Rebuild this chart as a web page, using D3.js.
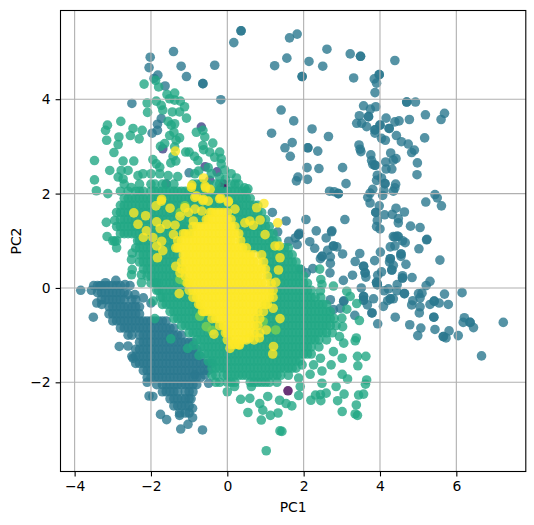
<!DOCTYPE html>
<html><head><meta charset="utf-8">
<style>html,body{margin:0;padding:0;background:#fff}svg{display:block}
text{font-family:"DejaVu Sans",sans-serif;font-size:13.9px;fill:#000}</style>
<script src="https://cdn.jsdelivr.net/npm/d3@7"></script></head><body>
<script>
const xTicks=[-4,-2,0,2,4,6], yTicks=[-2,0,2,4];
const classColors=["#440154","#414487","#2a788e","#22a884","#7ad151","#fde725"];
const purplePts=[[-.1,2.2],[1.59,-2.18]];
const indigoPts=[[-.68,3.41],[-.58,2.57],[-.27,2.46],[-.18,2.06],[-.72,2.13],[-1.69,2.95],[.24,1.7],[-1.16,1.25],[-1.6,2.2],[-.46,2.28],[-.45,2.02],[-.15,2.13],[.16,1.75]];
const tealPts=[[1.83,5.38],[1.63,5.30],[2.61,5.06],[1.56,4.87],[1.24,4.71],[2.14,4.80],[2.50,4.70],[3.22,4.96],[3.49,4.91],[3.49,4.91],[4.39,4.82],[1.96,4.48],[1.96,4.48],[3.31,4.45],[3.98,4.52],[3.98,4.52],[3.85,4.43],[3.91,4.34],[3.87,4.14],[4.70,3.94],[4.70,3.94],[4.93,3.94],[1.41,3.77],[1.74,3.54],[2.22,3.37],[1.16,3.28],[2.65,3.21],[1.70,3.08],[1.51,2.97],[1.65,2.79],[2.11,2.97],[2.11,2.97],[2.37,2.90],[3.57,3.86],[3.75,3.79],[3.89,3.84],[3.46,3.65],[3.70,3.63],[3.70,3.63],[3.39,3.49],[3.52,3.49],[3.65,3.42],[4.16,3.60],[4.39,3.52],[4.50,3.54],[4.77,3.57],[5.19,3.67],[5.69,3.70],[5.60,3.57],[4.0,3.45],[4.0,3.45],[3.87,3.35],[3.87,3.35],[3.87,3.28],[4.24,3.38],[4.24,3.38],[4.43,3.23],[4.04,3.17],[4.14,3.13],[4.56,3.10],[5.17,3.18],[4.74,3.05],[4.90,2.92],[4.83,2.87],[3.45,3.03],[3.48,2.94],[3.50,2.89],[3.76,2.82],[3.78,2.70],[3.87,2.60],[3.87,2.60],[3.81,2.62],[4.28,2.86],[4.15,2.67],[4.42,2.74],[4.35,2.71],[4.98,2.65],[4.16,2.52],[4.31,2.52],[4.97,2.40],[2.09,2.55],[2.40,2.53],[3.02,2.55],[1.85,2.35],[1.81,2.27],[2.10,2.30],[3.11,2.21],[2.68,2.05],[2.80,2.04],[2.91,2.0],[2.91,2.0],[3.93,2.39],[3.91,2.28],[4.04,2.33],[4.13,2.21],[4.13,2.21],[4.41,2.20],[4.39,2.12],[4.35,2.05],[3.81,2.09],[3.74,2.01],[4.10,2.07],[4.07,1.96],[3.68,1.92],[3.74,1.80],[3.98,1.74],[5.44,1.98],[5.50,1.91],[5.20,1.82],[5.61,1.74],[3.89,1.60],[3.89,1.60],[4.12,1.55],[4.32,1.56],[4.42,1.69],[4.64,1.61],[4.48,1.47],[4.48,1.38],[3.93,1.43],[3.91,1.30],[4.0,1.25],[4.80,1.31],[5.05,1.28],[3.08,1.45],[2.06,1.45],[1.54,1.42],[1.18,1.60],[2.33,1.21],[2.73,1.19],[2.59,1.06],[1.87,1.13],[1.87,1.13],[1.32,1.19],[4.39,1.08],[4.48,1.09],[4.59,1.0],[5.22,1.02],
[1.89,1.16],[2.74,1.21],[2.16,.98],[2.29,.84],[1.61,.99],[1.83,.92],[1.78,1.06],[4.35,1.09],[4.45,1.10],[4.39,.89],[4.27,.87],[4.66,.96],[5.23,1.03],[5.02,.83],[2.78,.89],[2.78,.89],[2.87,.87],[2.63,.80],[2.48,.67],[2.48,.67],[2.44,.62],[3.02,.72],[2.70,.66],[2.70,.52],[3.47,.73],[4.01,.76],[3.35,.56],[3.86,.58],[4.27,.62],[4.27,.62],[4.25,.55],[4.55,.72],[4.55,.72],[4.55,.67],[4.68,.50],[5.57,.59],[3.57,.46],[3.57,.46],[4.35,.48],[4.31,.38],[4.31,.38],[3.61,.32],[3.61,.32],[3.63,.23],[2.69,.32],[1.93,.39],[2.07,.32],[2.24,.41],[3.28,.27],[4.04,.34],[3.94,.27],[4.59,.21],[4.59,.21],[4.59,.26],[4.84,.22],[5.31,.14],[5.21,.05],[3.04,.16],[3.51,0],[3.91,.12],[3.91,.12],[3.93,.07],[3.93,.07],[4.45,.07],[4.22,-.02],[4.44,-.06],[4.11,-.06],[4.64,-.12],[4.64,-.12],[5.01,-.12],[5.10,-.11],[5.69,-.13],[6.15,-.10],[3.57,-.18],[3.57,-.18],[3.83,-.23],[4.35,-.23],[4.27,-.23],[4.27,-.23],[4.20,-.27],[4.09,-.39],[3.67,-.36],[3.57,-.26],[3.57,-.26],[4.86,-.27],[4.83,-.36],[5.05,-.21],[5.05,-.40],[5.03,-.53],[5.31,-.35],[5.42,-.28],[5.42,-.28],[5.55,-.32],[5.79,-.35],[3.34,-.58],[3.79,-.53],[3.79,-.53],[3.94,-.76],[4.40,-.62],[4.78,-.78],[5.07,-.85],[4.99,-1.01],[5.44,-.88],[5.81,-.91],[5.66,-1.03],[5.66,-1.03],[5.73,-1.06],[6.05,-1.01],[5.41,-.62],[5.41,-.62],[6.21,-.63],[6.18,-.73],[6.36,-.73],[6.36,-.73],[6.45,-.84],[7.23,-.73],[6.66,-1.44],[2.70,-.25],[3.05,-.28],[3.05,-.28],[2.78,-.46],[2.96,-.43],
[-2.02,4.89],[-1.41,5.01],[-2.05,4.67],[-1.21,4.70],[-1.07,4.48],[-.33,4.72],[.17,5.2],[.36,5.45],[.36,5.45],[-.64,4.33],[-.64,4.33],[-.17,3.99],[-1.82,4.51],[-1.92,4.44],[-1.63,4.28],[-2.5,3.91],[-1.73,3.59],[-1.83,3.47],[-1.83,3.34],[-1.97,3.28],[-1,2.44],
[-3.84,-.05],[-3.56,-.05],[-3.19,.11],[-2.92,.16],[-2.68,.07],[-2.55,.05],[-3.51,-.62],[-3.34,.04],[-3.42,-.32],[-3.29,-.35],[-2.6,-.14],[-2.42,-.14],[-2.2,-.21],[-2,-.32],[-2.83,-1.24],[-2.6,-1.23],[-2.47,-1.49],[-2.1,-2],[-2.05,-2.29],[-1.95,-2.3],[-1.75,-2.68],[-1.59,-2.79],[-1.22,-2.99],[-1.03,-2.89],[-.91,-2.75],[-.65,-3.01],[-1.25,-2.7],[-.91,-2.55],[-.49,-2.02],[-.85,-1.84],[-.59,-1.84]];
const tealRows=[
[.05,-3.5,-3.4,-3.3,-3.2,-3.1,-3,-2.9,-2.8],
[-.1,-3.4,-3.3,-3.2,-3.1,-3,-2.9,-2.8,-2.7],
[-.25,-3.3,-3.2,-3.1,-3,-2.9,-2.8,-2.7,-2.5,-2.4],
[-.4,-3.1,-3,-2.9,-2.8,-2.7,-2.6,-2.5,-2.4,-2.3],
[-.55,-3.1,-3,-2.9,-2.8,-2.7,-2.6,-2.5,-2.4,-2.3],
[-.7,-3,-2.9,-2.8,-2.7,-2.6,-2.5,-2.4,-2.3,-2.2,-2.1,-2,-1.9,-1.8,-1.7,-1.6],
[-.85,-2.8,-2.7,-2.6,-2.5,-2.4,-2.3,-2.2,-2.1,-2,-1.9,-1.8,-1.7,-1.6,-1.5,-1.4],
[-1,-2.6,-2.5,-2.3,-2.2,-2.1,-2,-1.9,-1.8,-1.7,-1.6,-1.5,-1.4,-1.3,-1.2],
[-1.15,-2.3,-2.2,-2.1,-2,-1.9,-1.8,-1.7,-1.6,-1.5,-1.4,-1.3,-1.2,-1.1,-1,-.9],
[-1.3,-2.4,-2.3,-2.2,-2.1,-2,-1.9,-1.8,-1.7,-1.6,-1.5,-1.4,-1.3,-1.2,-1.1,-1,-.9,-.8],
[-1.45,-2.5,-2.4,-2.3,-2.2,-2.1,-2,-1.9,-1.8,-1.7,-1.6,-1.5,-1.4,-1.3,-1.2,-1.1,-1,-.9,-.8,-.7],
[-1.6,-2.4,-2.3,-2.2,-2.1,-2,-1.9,-1.8,-1.7,-1.6,-1.5,-1.4,-1.3,-1.2,-1.1,-1,-.9,-.8,-.7,-.6,-.5,-.4],
[-1.75,-2.2,-2.1,-2,-1.9,-1.8,-1.7,-1.6,-1.5,-1.4,-1.3,-1.2,-1.1,-1,-.9,-.8,-.7,-.6,-.5],
[-1.9,-2.1,-2,-1.9,-1.8,-1.7,-1.6,-1.5,-1.4,-1.3,-1.2,-1.1,-1,-.9,-.8,-.7],
[-2.05,-1.85,-1.7,-1.6,-1.5,-1.4,-1.3,-1.2,-1.1,-1,-.9,-.8],
[-2.2,-1.7,-1.6,-1.5,-1.4,-1.3,-1.1,-1,-.9],
[-2.35,-1.5,-1.4,-1.3,-1.2,-1.1,-1,-.95],
[-2.5,-1.4,-1.3,-1.2,-1.1,-1],
[-2.65,-1.25,-1.1,-1]];
const greenPts=[[-2.18,4.32],[-1.88,4.40],[-1.80,4.26],[-1.58,4.10],[-1.38,4.13],[-2.10,3.92],[-1.86,3.96],[-1.51,4.01],[-1.23,3.96],[-1.73,3.87],[-1.38,3.98],[-1.69,3.77],[-1.44,3.73],[-1.12,3.84],[-1.25,3.73],[-2.09,3.72],[-1.07,3.60],[-1.55,3.53],[-1.38,3.48],[-1.47,3.45],[-3.14,3.45],[-3.19,3.34],[-2.79,3.53],[-2.47,3.38],[-2.23,3.34],[-2.54,3.23],[-2.84,3.20],[-3.16,3.13],[-2.31,3.16],[-2.86,3.04],[-2.97,2.87],[-1.51,3.23],[-1.40,3.30],[-1.25,3.18],[-1.34,3.13],[-1.75,3.0],[-1.64,3.06],[-1.38,2.99],[-1.42,2.79],[-1.35,2.69],[-1.48,2.65],[-3.48,2.70],[-2.73,2.69],[-2.45,2.69],[-1.95,2.72],[-1.09,2.88],[-1.0,2.88],[-.86,2.79],[-.77,2.70],[-.81,3.30],[-.64,3.34],[-.59,3.2],[-.38,3.07],[-.64,3.02],[-.62,2.93],[-.46,2.88],[-.2,2.88],[-.33,2.77],[-.16,2.74],[-.16,2.63],[-.07,2.5],[.1,2.42],[.24,2.33],[.45,2.12],[.54,2.1],[-3.08,2.49],[-3.48,2.29],[-3.43,2.06],[-3.13,2.0],[-2.78,2.49],[-2.6,2.49],[-2.86,2.35],[-2.73,2.31],[-2.52,2.13],[-2.34,2.38],[-2.21,2.42],[-1.86,2.63],[-1.77,2.56],[-2,2.42],[-1.77,2.42],[-1.55,2.38],[-1.3,2.36],[-.85,2.42],[-.75,2.48],[-.5,2.55],[-.42,2.42],[-.2,2.35],[-.05,2.3],
[2.42,.4],[2.45,.18],[2.48,.07],[2.78,.04],[2.44,-.06],[3.13,-.07],[3.22,-.18],[3.39,-.33],[3.13,-.45],[3.0,-.64],[3.46,-.69],[3.02,-.82],[3.38,-1.06],[3.35,-1.12],[3.05,-1.17],[2.94,-1.03],[2.78,-1.35],[3.41,-1.45],[3.63,-1.45],[3.01,-1.49],[3.42,-1.65],[2.72,-1.63],[2.44,-1.49],[2.48,-1.76],[2.26,-1.63],[2.17,-1.83],[1.96,-1.63],[3.01,-1.83],[3.15,-1.93],[3.65,-1.95],[3.62,-2.04],[2.48,-2.02],[2.85,-2.09],[3.06,-2.25],[3.44,-2.27],[3.57,-2.25],[2.59,-2.23],[2.44,-2.26],[2.31,-2.27],[2.19,-2.38],[2.45,-2.39],[2.89,-2.39],[3.38,-2.48],[3.01,-2.62],[3.35,-2.67],[3.41,-2.7],[1.69,-2.5],[1.87,-2.28],[1.43,-3.04],[1.91,-2.09],[1.87,-1.91],
[.54,-2.64],[.89,-2.8],[1.13,-2.7],[1.33,-2.65],[1.38,-3.03],[1.02,-3.45],[0,-2.2],[.35,-2.36],[.59,-2.34],[.85,-2.45],[.93,-2.59],[1.06,-2.3],[1.37,-2.38],[1.54,-2.45],[.19,-2.09],[.63,-2.09],[-2.9,.85],[-2.95,.99],[-2.49,.74],[-2.51,.6],[-2.49,.39],[-2.51,.28],[-2.25,.28],[-2.25,.11],[-1.86,.11],[-1.94,-.28],[-1.9,-.65],[-1.48,-1.08],[-1.04,-1.28],[-.89,-1.22],[-.74,-1.43],[-3.17,1.39],[-2.95,1.43],[-3.15,1.09]];
const greenRows=[
[2.2,-2.7,-2.3,-2,-1.9,-1.7,-1.6,-1.4,-.9,-.8,-.7,-.6,-.5,-.3,-.2,.1,.2,.3],
[2.05,-2.8,-2.6,-2.4,-2.3,-2.2,-2,-1.9,-1.8,-1.7,-1.6,-1.5,-1.4,-1.3,-1.2,-1.1,-1,-.9,-.8,-.7,-.6,-.5,-.4,-.3,-.2,-.1,0,.1,.2,.3,.4,.5],
[1.9,-2.7,-2.6,-2.5,-2.4,-2.3,-2.2,-2.1,-2,-1.9,-1.8,-1.7,-1.6,-1.5,-1.4,-1.3,-1.2,-1.1,-1,-.9,-.8,-.7,-.6,-.5,-.4,-.3,-.2,-.1,0,.1,.2,.3,.4,.5,.6],
[1.75,-2.8,-2.7,-2.6,-2.5,-2.4,-2.3,-2.2,-2.1,-2,-1.9,-1.8,-1.7,-1.6,-1.5,-1.4,-1.3,-1.2,-1.1,-1,-.9,-.8,-.7,-.6,-.5,-.4,-.3,-.2,-.1,0,.1,.2,.3,.4,.5,.6,.7,.8],
[1.6,-2.9,-2.8,-2.7,-2.6,-2.5,-2.4,-2.3,-2.2,-2.1,-2,-1.9,-1.8,-1.7,-1.6,-1.5,-1.4,-1.3,-1.2,-1.1,-1,-.9,-.8,-.7,-.6,-.5,.1,.2,.3,.4,.5,.6,.7,.8,.9],
[1.45,-2.8,-2.7,-2.6,-2.5,-2.4,-2.3,-2.2,-2.1,-2,-1.9,-1.8,-1.7,-1.6,-1.5,-1.4,-1.3,-1.2,-1.1,-1,-.9,-.8,-.7,-.6,.2,.3,.4,.5,.6,.7,.8,.9,1],
[1.3,-2.9,-2.8,-2.7,-2.6,-2.5,-2.4,-2.3,-2.2,-2.1,-2,-1.9,-1.8,-1.7,-1.6,-1.5,-1.4,-1.3,-1.2,-1.1,-1,-.9,.3,.4,.5,.6,.7,.8,.9,1,1.1],
[1.15,-2.8,-2.7,-2.6,-2.5,-2.4,-2.3,-2.2,-2.1,-2,-1.9,-1.8,-1.7,-1.6,-1.5,-1.4,-1.3,-1.2,-1.1,-1,.4,.5,.6,.7,.8,.9,1,1.1,1.2],
[1,-3,-2.9,-2.35,-2.3,-2.2,-2.1,-2,-1.9,-1.8,-1.7,-1.6,-1.5,-1.4,-1.3,.4,.5,.6,.7,.8,.9,1,1.1,1.2,1.3],
[.85,-2.4,-2.3,-2.2,-2.1,-2,-1.9,-1.8,-1.7,-1.6,-1.5,-1.4,.5,.6,.7,.8,.9,1,1.1,1.2,1.3,1.4,1.5,1.6],
[.7,-2.3,-2.2,-2.1,-2,-1.9,-1.8,-1.7,-1.6,-1.5,-1.4,-1.3,.9,1,1.1,1.2,1.3,1.4,1.5,1.6,1.7],
[.55,-2.3,-2.2,-2.1,-2,-1.9,-1.8,-1.7,-1.6,-1.5,-1.4,-1.3,1,1.1,1.2,1.3,1.4,1.5,1.6,1.7,1.8],
[.4,-2.2,-2.1,-2,-1.9,-1.8,-1.7,-1.6,-1.5,-1.4,-1.3,-1.2,1.1,1.2,1.3,1.4,1.5,1.6,1.7,1.8,1.9],
[.25,-2.1,-2,-1.9,-1.8,-1.7,-1.6,-1.5,-1.4,-1.3,-1.2,1.1,1.2,1.3,1.4,1.5,1.6,1.7,1.8,1.9,2],
[.1,-2,-1.9,-1.8,-1.7,-1.6,-1.5,-1.4,-1.3,-1.2,-1.1,1.2,1.3,1.4,1.5,1.6,1.7,1.8,1.9,2,2.1],
[-.05,-1.85,-1.8,-1.7,-1.6,-1.5,-1.4,-1.3,-1.2,-1.1,-1,1.2,1.3,1.4,1.5,1.6,1.7,1.8,1.9,2,2.1,2.2],
[-.2,-1.75,-1.7,-1.6,-1.5,-1.4,-1.3,-1.2,-1.1,-1,-.9,1.2,1.3,1.4,1.5,1.6,1.7,1.8,1.9,2,2.1,2.2,2.3,2.45],
[-.35,-1.7,-1.6,-1.5,-1.4,-1.3,-1.2,-1.1,-1,-.9,-.8,1,1.1,1.2,1.3,1.4,1.5,1.6,1.7,1.8,1.9,2,2.1,2.2,2.3,2.4,2.5,2.6],
[-.5,-1.5,-1.4,-1.3,-1.2,-1.1,-1,-.9,-.8,-.7,.9,1,1.1,1.2,1.3,1.4,1.5,1.6,1.7,1.8,1.9,2,2.1,2.2,2.3,2.4,2.5,2.6,2.7],
[-.65,-1.4,-1.3,-1.2,-1.1,-1,-.9,-.8,-.7,-.6,-.5,-.4,.8,.9,1,1.1,1.2,1.3,1.4,1.5,1.6,1.7,1.8,1.9,2,2.1,2.2,2.3,2.4,2.5,2.6,2.7,2.8],
[-.8,-1.2,-1.1,-1,-.9,-.8,-.7,-.6,-.5,-.4,-.3,-.2,.8,.9,1,1.1,1.2,1.3,1.4,1.5,1.6,1.7,1.8,1.9,2,2.1,2.2,2.3,2.4,2.5,2.6,2.7,2.85],
[-.95,-1,-.9,-.8,-.7,-.6,-.5,-.4,-.3,-.2,-.1,.8,.9,1,1.1,1.2,1.3,1.4,1.5,1.6,1.7,1.8,1.9,2,2.1,2.2,2.3,2.4,2.5,2.6,2.75],
[-1.1,-.8,-.7,-.6,-.5,-.4,-.3,-.2,-.1,0,.7,.8,.9,1,1.1,1.2,1.3,1.4,1.5,1.6,1.7,1.8,1.9,2,2.1,2.2,2.3,2.4,2.6],
[-1.25,-.7,-.6,-.5,-.4,-.3,-.2,-.1,0,.1,.2,.3,.4,.5,.6,.7,.8,.9,1,1.1,1.2,1.3,1.4,1.5,1.6,1.7,1.8,1.9,2,2.1,2.2,2.4],
[-1.4,-.6,-.5,-.4,-.3,-.2,-.1,0,.1,.2,.3,.4,.5,.6,.7,.8,.9,1,1.1,1.2,1.3,1.4,1.5,1.6,1.7,1.8,1.9,2,2.1,2.2],
[-1.55,-.5,-.4,-.3,-.2,-.1,0,.1,.2,.3,.4,.5,.6,.7,.8,.9,1,1.1,1.2,1.3,1.4,1.5,1.6,1.7,1.8,1.9],
[-1.7,-.4,-.3,-.2,-.1,0,.1,.2,.3,.4,.5,.6,.7,.8,.9,1,1.1,1.2,1.3,1.4,1.5,1.6,1.7,1.8],
[-1.85,-.4,-.3,-.1,0,.1,.2,.3,.4,.5,.6,.7,.8,.9,1,1.1,1.2,1.3,1.4,1.6],
[-2,-.3,-.2,0,.1,.2,.6,.7,.8,.9,1,1.1,1.3]];
const limePts=[[1.27,-.89],[-1.23,1.6],[-.55,-.82],[-1.11,.14],[.94,-.71],[-.4,-.9],[-.72,-.6],[-1.24,.18],[-1.11,1.74]];
const yellowPts=[[-1.36,2.90],[-.62,2.33],[-.94,2.13],[-.57,2.12],[-.45,2.09],[-.85,1.92],[-.64,1.85],[-.2,1.89],[.02,1.82],[.96,1.79],[.77,1.7],[-1.73,1.84],[-1.87,1.74],[-2.45,1.59],[-2.14,1.53],[-1.5,1.69],[-1.11,1.7],[-.85,1.67],[-1.24,1.52],[-2.34,1.35],[-1.85,1.4],[-1.76,1.26],[-2.12,1.21],[-1.37,1.33],[-1.59,1.35],[-.89,1.42],[-.67,1.63],[.59,1.42],[.86,1.44],[.46,1.38],[.68,1.33],[-2.2,1.07],[-1.95,1.07],[.99,1.13],[-1.02,1.6],[1.25,.89],[1.36,.89],[1.38,.64],[1.34,.38],[1.27,.12],[1.38,-.65],[1.21,-1.24],[1.19,-1.4],[-.35,-.98],[-1.26,-.12],[-1.85,.89],[-1.69,.79],[-1.83,.64],[-1.72,.99],[-1.41,1.13],[0,-.87],[.07,-1.28],[.32,-1.21],[.58,-1.06],[.84,-1.06],[1.02,-.89],[1.2,-.43],[1.32,1.38],[-1.35,.46],[-1.24,.32],[.2,1.67],[.03,1.84],[-.17,1.91],[-.93,2.18],[-.58,2.16],[-.81,1.95],[-.63,1.88],[-.5,1.84],[-1.72,1.88]];
const yellowRows=[
[1.6,-.45,-.4,-.3,-.2,-.1,0],
[1.45,-.55,-.5,-.4,-.3,-.2,-.1,0,.1],
[1.3,-.9,-.8,-.7,-.6,-.5,-.4,-.3,-.2,-.1,0,.1,.2],
[1.15,-1.15,-1.1,-1,-.9,-.8,-.7,-.6,-.5,-.4,-.3,-.2,-.1,0,.1,.2,.3],
[1,-1.3,-1.2,-1.1,-1,-.9,-.8,-.7,-.6,-.5,-.4,-.3,-.2,-.1,0,.1,.2,.35],
[.85,-1.35,-1.3,-1.2,-1.1,-1,-.9,-.8,-.7,-.6,-.5,-.4,-.3,-.2,-.1,0,.1,.2,.3,.4,.5],
[.7,-1.15,-1.1,-1,-.9,-.8,-.7,-.6,-.5,-.4,-.3,-.2,-.1,0,.1,.2,.3,.4,.5,.6,.7,.9],
[.55,-1.2,-1.1,-1,-.9,-.8,-.7,-.6,-.5,-.4,-.3,-.2,-.1,0,.1,.2,.3,.4,.5,.6,.7,.8,.95],
[.4,-1.2,-1.1,-1,-.9,-.8,-.7,-.6,-.5,-.4,-.3,-.2,-.1,0,.1,.2,.3,.4,.5,.6,.7,.8,.9,1],
[.25,-1.1,-1,-.9,-.8,-.7,-.6,-.5,-.4,-.3,-.2,-.1,0,.1,.2,.3,.4,.5,.6,.7,.8,.9,1.05],
[.1,-1.05,-1,-.9,-.8,-.7,-.6,-.5,-.4,-.3,-.2,-.1,0,.1,.2,.3,.4,.5,.6,.7,.8,.9,1,1.15],
[-.05,-1,-.9,-.8,-.7,-.6,-.5,-.4,-.3,-.2,-.1,0,.1,.2,.3,.4,.5,.6,.7,.8,.9,1,1.1,1.2],
[-.2,-.9,-.8,-.7,-.6,-.5,-.4,-.3,-.2,-.1,0,.1,.2,.3,.4,.5,.6,.7,.8,.9,1,1.1,1.2],
[-.35,-.75,-.7,-.6,-.5,-.4,-.3,-.2,-.1,0,.1,.2,.3,.4,.5,.6,.7,.8,.9,1,1.05],
[-.5,-.65,-.6,-.5,-.4,-.3,-.2,-.1,0,.1,.2,.3,.4,.5,.6,.7,.8,.95],
[-.65,-.4,-.3,-.2,-.1,0,.1,.2,.3,.4,.5,.6,.7,.85],
[-.8,-.2,-.1,0,.1,.2,.3,.4,.5,.6,.7,.8],
[-.95,-.05,0,.1,.2,.3,.4,.5,.6,.7,.85],
[-1.1,0,.1,.2,.3,.4,.5,.7],
[-1.2,.1,.2,.3]];

const fromRows=rows=>rows.flatMap(([y,...xs])=>xs.map(x=>[x,y]));
const layers=[
 {pts:indigoPts,c:classColors[1]},
 {pts:purplePts.slice(0,1),c:classColors[0]},
 {pts:tealPts.concat(fromRows(tealRows)),c:classColors[2]},
 {pts:greenPts.concat(fromRows(greenRows)),c:classColors[3]},
 {pts:purplePts.slice(1),c:classColors[0]},
 {pts:limePts,c:classColors[4]},
 {pts:yellowPts.concat(fromRows(yellowRows)),c:classColors[5]}];

const W=534,H=525,L=60.5,R=525.8,T=10.5,B=471.5;
const x=d3.scaleLinear().domain([-4.37,7.82]).range([L,R]);
const y=d3.scaleLinear().domain([-3.89,5.88]).range([B,T]);
const svg=d3.select("body").append("svg").attr("width",W).attr("height",H);
svg.append("rect").attr("width",W).attr("height",H).attr("fill","#fff");
const plot=svg.append("g");
layers.forEach(l=>{plot.append("g").selectAll("circle").data(l.pts).join("circle")
 .attr("cx",d=>x(d[0])).attr("cy",d=>y(d[1])).attr("r",4.8).attr("fill",l.c).attr("fill-opacity",.8);});
const grid=svg.append("g").attr("stroke","#b0b0b0").attr("stroke-width",1.1);
grid.selectAll(".v").data(xTicks).join("line").attr("x1",d=>x(d)).attr("x2",d=>x(d)).attr("y1",T).attr("y2",B);
grid.selectAll(".h").data(yTicks).join("line").attr("y1",d=>y(d)).attr("y2",d=>y(d)).attr("x1",L).attr("x2",R);
const fmt=d=>String(d).replace("-","\u2212");
const ax=svg.append("g").attr("transform",`translate(0,${B})`).call(d3.axisBottom(x).tickValues(xTicks).tickFormat(fmt).tickSize(4.9).tickPadding(4.9));
const ay=svg.append("g").attr("transform",`translate(${L},0)`).call(d3.axisLeft(y).tickValues(yTicks).tickFormat(fmt).tickSize(4.9).tickPadding(4.9));
[ax,ay].forEach(a=>{a.select(".domain").remove();a.selectAll("line").attr("stroke","#000").attr("stroke-width",1.1);a.selectAll("text").style("font-size","13.9px").style("font-family",'"DejaVu Sans",sans-serif');});
svg.append("rect").attr("x",L).attr("y",T).attr("width",R-L).attr("height",B-T).attr("fill","none").attr("stroke","#000").attr("stroke-width",1.1);
svg.append("text").attr("x",(L+R)/2).attr("y",512).attr("text-anchor","middle").text("PC1");
svg.append("text").attr("transform",`translate(21,${(T+B)/2}) rotate(-90)`).attr("text-anchor","middle").text("PC2");
</script></body></html>
